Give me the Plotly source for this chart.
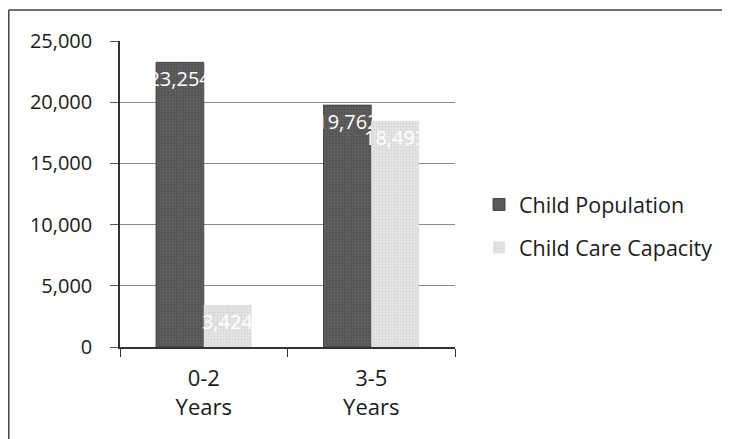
import plotly.graph_objects as go

categories = ["0-2<br>Years", "3-5<br>Years"]
child_population = [23254, 19762]
child_care_capacity = [3424, 18493]
series_names = ["Child Population", "Child Care Capacity"]
y_ticks = [0, 5000, 10000, 15000, 20000, 25000]

FONT = "'Open Sans', sans-serif"

fig = go.Figure()
fig.add_trace(go.Bar(
    x=categories, y=child_population, name=series_names[0],
    marker=dict(color="#555555", line=dict(width=0.8, color="#333333"),
                pattern=dict(shape=".", fgcolor="#777777", size=3, solidity=0.3)),
    text=[f"{v:,}" for v in child_population], textposition="inside",
    insidetextanchor="end", textangle=0,
    textfont=dict(color="white", size=20, family=FONT),
    legendgroup="a",
))
fig.add_trace(go.Bar(
    x=categories, y=child_care_capacity, name=series_names[1],
    marker=dict(color="#e4e4e4", line=dict(width=0),
                pattern=dict(shape=".", fgcolor="#bbbbbb", size=3, solidity=0.25)),
    text=[f"{v:,}" for v in child_care_capacity], textposition="inside",
    insidetextanchor="end", textangle=0,
    textfont=dict(color="white", size=20, family=FONT),
    legendgroup="b",
))

# page is offset 8px by the browser's default body margin
W, H = 722, 431
L, R, T, B = 112, 275, 33, 92
pw = W - L - R
ph = H - T - B

fig.update_layout(
    width=W, height=H,
    margin=dict(l=L, r=R, t=T, b=B, autoexpand=False),
    paper_bgcolor="white", plot_bgcolor="white",
    barmode="group", bargap=0.43, bargroupgap=0,
    font=dict(family=FONT, size=20, color="#1a1a1a"),
    uniformtext=dict(minsize=20, mode="show"),
    showlegend=True,
    legend=dict(x=(471 - L) / pw, y=(339 - 218) / ph, xanchor="left", yanchor="middle",
                font=dict(size=21.5, family=FONT, color="#1a1a1a"),
                traceorder="grouped", tracegroupgap=12, itemwidth=30,
                bgcolor="rgba(0,0,0,0)"),
    xaxis=dict(showline=True, linecolor="#333333", linewidth=1.5,
               ticks="outside", ticklen=8, tickcolor="#333333",
               tickson="boundaries", showgrid=False, automargin=False,
               ticklabelstandoff=11,
               tickfont=dict(size=22, family=FONT, color="#1a1a1a")),
    yaxis=dict(range=[0, 25000], tickvals=y_ticks, tickformat=",",
               showline=True, linecolor="#333333", linewidth=1.5,
               ticks="outside", ticklen=8, tickcolor="#555555",
               showgrid=True, gridcolor="#8a8a8a", gridwidth=1,
               zeroline=False, ticklabelstandoff=14, automargin=False,
               tickfont=dict(size=20, family=FONT, color="#1a1a1a")),
    shapes=[
        dict(type="line", xref="paper", yref="paper",
             x0=(0.8 - L) / pw, x1=(0.8 - L) / pw, y0=(339 - H) / ph, y1=(339 - 2) / ph,
             line=dict(color="#444444", width=1.5)),
        dict(type="line", xref="paper", yref="paper",
             x0=(0.8 - L) / pw, x1=(W - L) / pw, y0=(339 - 2) / ph, y1=(339 - 2) / ph,
             line=dict(color="#444444", width=1.5)),
    ],
)

fig.write_html("out.html")
